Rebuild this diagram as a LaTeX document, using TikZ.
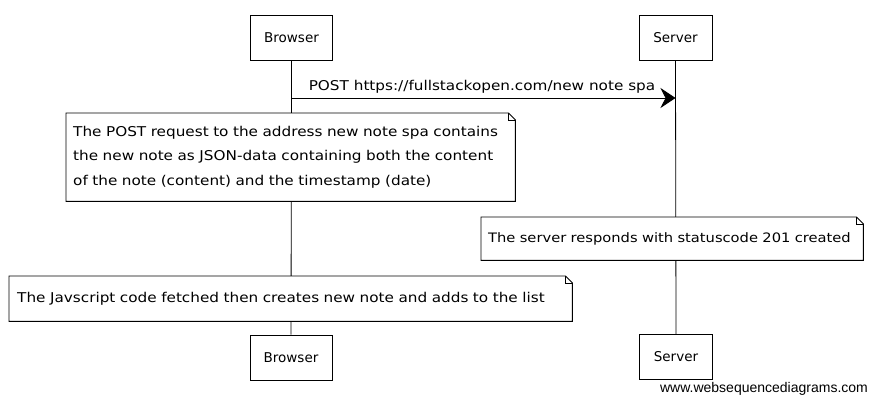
\documentclass[tikz,border=0pt]{standalone}
\usepackage{fontspec}
\setmainfont[FakeStretch=1.13]{DejaVu Sans}
\newfontfamily\boxfont{DejaVu Sans}
\newfontfamily\wmfont{Liberation Sans}
\usetikzlibrary{arrows.meta,calc,backgrounds}
\newcommand\drawnote[1]{%
  \draw[line width=0.9pt] (#1.north west) -- ($(#1.north east)+(-7,0)$) -- ($(#1.north east)+(0,7)$)
    -- (#1.south east) -- (#1.south west) -- cycle;
  \draw[line width=0.6pt] ($(#1.north east)+(-7,0)$) -- ($(#1.north east)+(-7,7)$) -- ($(#1.north east)+(0,7)$);
}
\begin{document}
\begin{tikzpicture}[x=1pt,y=-1pt,
  font=\fontsize{13.5}{24.5}\selectfont,
  actor/.style={draw, line width=0.9pt, minimum width=82pt, minimum height=45pt, inner sep=0pt, fill=white, font=\boxfont\fontsize{13.5}{15}\selectfont},
  notebox/.style={inner xsep=7pt, inner ysep=0pt, fill=white, align=left, anchor=north west},
  lifeline/.style={line width=0.8pt},
  msg/.style={line width=0.9pt, -{Stealth[length=15pt,width=20pt,inset=5pt]}}]
\useasboundingbox (0,0) rectangle (879,405);

\node[actor] (btop) at (291.5,38) {Browser};
\node[actor, minimum width=73pt] (stop) at (675.5,38) {Server};
\node[actor] (bbot) at (291,357.5) {Browser};
\node[actor, minimum width=73pt] (sbot) at (676,357) {Server};

\node[notebox, minimum width=449pt, minimum height=88pt, text width=435pt] (n1) at (66,113)
  {The POST request to the address new note spa contains\\
   the new note as JSON-data containing both the content\\
   of the note (content) and the timestamp (date)};
\drawnote{n1}

\node[notebox, inner xsep=0pt, minimum width=382pt, minimum height=43pt, text width=382pt, font=\fontsize{13}{24.5}\selectfont] (n2) at (481,217)
  {\hspace*{7pt}\mbox{The server responds with statuscode 201 created}};
\drawnote{n2}

\node[notebox, inner xsep=0pt, minimum width=563pt, minimum height=45pt, text width=563pt] (n3) at (9,276)
  {\hspace*{8pt}\mbox{The Javscript code fetched then creates new note and adds to the list}};
\drawnote{n3}

\begin{scope}[on background layer]
  \draw[lifeline] (btop.south) -- (bbot.north);
  \draw[lifeline] (stop.south) -- (sbot.north);
\end{scope}

\coordinate (m1) at (btop.south |- 0,98);
\coordinate (m2) at (stop.south |- 0,98);
\draw[msg] (m1) -- (m2);
\node (l1) at (482,87) {POST https://fullstackopen.com/new note spa};

\node (wm) at (764,389) {\wmfont\fontsize{14}{14}\selectfont www.websequencediagrams.com};
\end{tikzpicture}
\end{document}
